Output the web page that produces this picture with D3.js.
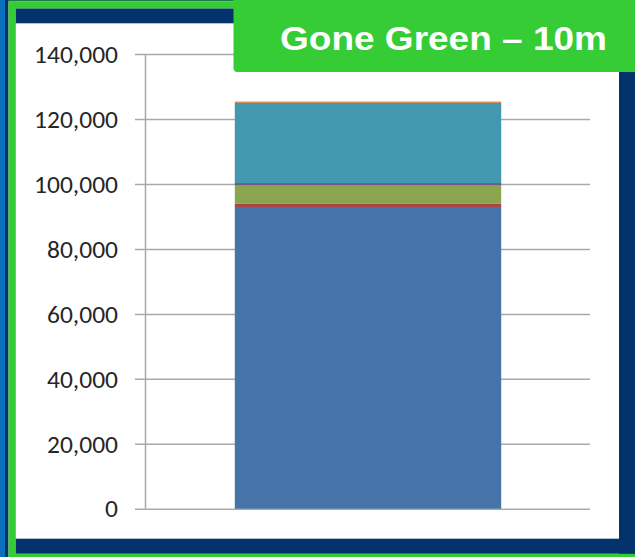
<!DOCTYPE html>
<html>
<head>
<meta charset="utf-8">
<script src="https://cdn.jsdelivr.net/npm/d3@7"></script>
<style>
  html, body { margin: 0; padding: 0; background: #fff; }
  svg { display: block; }
</style>
</head>
<body>
<svg id="chart" width="635" height="557"></svg>
<script>
// ---- data ----
const categories = ["10m"];
const seriesNames = ["S1", "S2", "S3", "S4", "S5", "S6"];
const seriesValues = [92900, 1100, 5500, 800, 24650, 400];
const seriesColors = ["#4674a9", "#aa4643", "#89a54e", "#71588f", "#4298af", "#db843d"];
const yTicks = [0, 20000, 40000, 60000, 80000, 100000, 120000, 140000];
const titleText = "Gone Green \u2013 10m";

// ---- layout ----
const W = 635, H = 557;
const plot = { left: 146, right: 590, top: 54, bottom: 508.8 };

const svg = d3.select("#chart");

// frame / background
svg.append("rect").attr("x", 0).attr("y", 0).attr("width", W).attr("height", H).attr("fill", "#ffffff");
svg.append("rect").attr("x", 0).attr("y", 0).attr("width", W).attr("height", 1.2).attr("fill", "#1f7a4f");
svg.append("rect").attr("x", 0).attr("y", 0).attr("width", 5).attr("height", H).attr("fill", "#0a6fbd");
svg.append("rect").attr("x", 5).attr("y", 0).attr("width", 3.5).attr("height", H).attr("fill", "#04336b");
// green frame
svg.append("rect").attr("x", 8.5).attr("y", 1.2).attr("width", W - 8.5).attr("height", 7.3).attr("fill", "#35cc36");
svg.append("rect").attr("x", 8.5).attr("y", 1.2).attr("width", 7.3).attr("height", H - 1.2).attr("fill", "#35cc36");
svg.append("rect").attr("x", 8.5).attr("y", 553.7).attr("width", W - 8.5).attr("height", 3.3).attr("fill", "#35cc36");
// navy inner frame
const navy = "#04336b";
svg.append("rect").attr("x", 15.8).attr("y", 8.5).attr("width", W - 15.8).attr("height", 14.8).attr("fill", navy);
svg.append("rect").attr("x", 619).attr("y", 8.5).attr("width", W - 619).attr("height", 545.2).attr("fill", navy);
svg.append("rect").attr("x", 15.8).attr("y", 538.7).attr("width", W - 15.8).attr("height", 15).attr("fill", navy);

// ---- scales ----
const y = d3.scaleLinear().domain([0, 140000]).range([plot.bottom, plot.top]);
const x = d3.scaleBand().domain(categories).range([plot.left, plot.right]).paddingInner(0.25).paddingOuter(0.25);

// gridlines (extend 11px left of axis as tick marks)
const grid = svg.append("g")
  .attr("transform", `translate(${plot.right},0)`)
  .call(d3.axisLeft(y).tickValues(yTicks).tickSize(plot.right - 135).tickFormat(""));
grid.select(".domain").remove();
grid.selectAll("line").attr("stroke", "#a9a9a9").attr("stroke-width", 1.5);

// stacked bar
const row = { cat: categories[0] };
seriesNames.forEach((n, i) => row[n] = seriesValues[i]);
const stacked = d3.stack().keys(seriesNames)([row]);
svg.append("g").selectAll("g")
  .data(stacked)
  .join("g")
  .attr("fill", (d, i) => seriesColors[i])
  .selectAll("rect")
  .data(d => d)
  .join("rect")
  .attr("x", d => x(d.data.cat))
  .attr("width", x.bandwidth())
  .attr("y", d => y(d[1]))
  .attr("height", d => y(d[0]) - y(d[1]));

// vertical axis line
svg.append("line")
  .attr("x1", plot.left - 0.5).attr("x2", plot.left - 0.5)
  .attr("y1", plot.top).attr("y2", plot.bottom)
  .attr("stroke", "#a9a9a9").attr("stroke-width", 1.5);

// axis labels
const fmt = d3.format(",");
const yAxis = svg.append("g")
  .attr("transform", `translate(${plot.left},0)`)
  .call(d3.axisLeft(y).tickValues(yTicks).tickSize(0).tickPadding(28).tickFormat(fmt));
yAxis.select(".domain").remove();
yAxis.selectAll("text")
  .attr("fill", "#262626")
  .style("font-family", "Carlito, Calibri, Lato, sans-serif")
  .style("font-size", "25.5px");

// title box
const bx = 233.5, by = -6, bw = W - bx + 6, bh = 72 + 6;
svg.append("rect")
  .attr("x", bx).attr("y", by).attr("width", bw).attr("height", bh)
  .attr("rx", 4).attr("ry", 4)
  .attr("fill", "#35cc36");
svg.append("text")
  .attr("x", 280).attr("y", 50)
  .attr("textLength", 327).attr("lengthAdjust", "spacingAndGlyphs")
  .attr("fill", "#ffffff")
  .style("font-family", "'Liberation Sans', Arial, sans-serif")
  .style("font-weight", "bold")
  .style("font-size", "33px")
  .text(titleText);
</script>
</body>
</html>
